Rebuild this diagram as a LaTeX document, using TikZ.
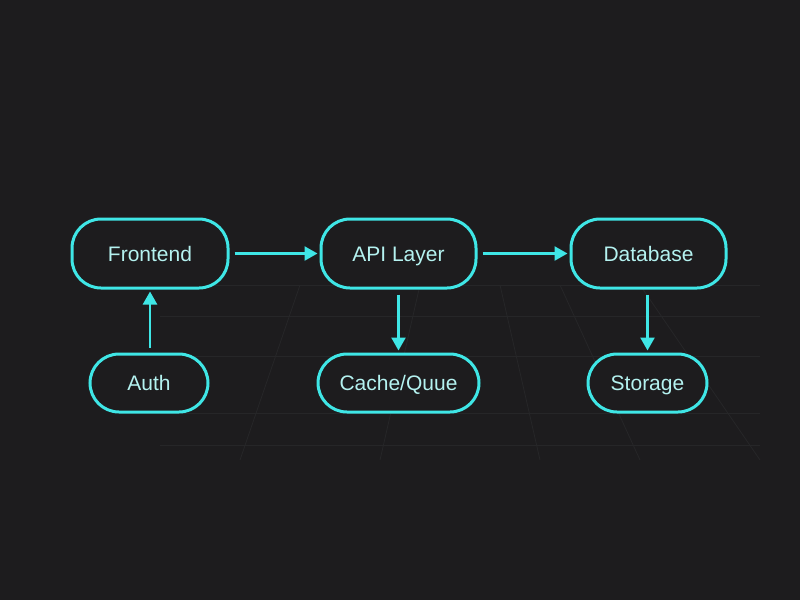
\documentclass[tikz,border=0pt]{standalone}
\usepackage{fontspec}
\setmainfont{Liberation Sans}
\usetikzlibrary{arrows.meta}
\definecolor{bg}{HTML}{1D1C1E}
\definecolor{cy}{HTML}{3FE6E6}
\definecolor{tx}{HTML}{B4F2F0}
\definecolor{gr}{HTML}{262628}
\begin{document}
\begin{tikzpicture}[x=1pt,y=-1pt,
  box/.style={draw=cy,line width=3pt,rounded corners=29pt,fill=bg,text=tx,font=\fontsize{21}{24}\selectfont,inner sep=0pt,text height=15pt,text depth=0pt,minimum height=#1},
  big/.style={box=69pt},
  small/.style={box=58pt},
  arr/.style={draw=cy,line width=2.5pt,-{Triangle[length=13pt,width=14pt]},shorten >=2pt,shorten <=5pt}]
\useasboundingbox (0,0) rectangle (800,600);
\fill[bg] (0,0) rectangle (800,600);
% faint grid
\foreach \y in {285,316,356,413,445} \draw[gr,line width=0.8pt] (160,\y) -- (760,\y);
\foreach \a/\b in {300/240,420/380,500/540,560/640,640/760} \draw[gr,line width=0.8pt] (\a,285) -- (\b,460);
\node[big,minimum width=156pt] (fe) at (150,253.5) {Frontend};
\node[big,minimum width=155pt] (api) at (398.5,253.5) {API Layer};
\node[big,minimum width=155pt] (db) at (648.5,253.5) {Database};
\node[small,minimum width=118pt] (au) at (149,383) {Auth};
\node[small,minimum width=161pt] (cq) at (398.5,383) {Cache/Quue};
\node[small,minimum width=119pt] (st) at (647.5,383) {Storage};
\draw[arr] (fe) -- (api);
\draw[arr] (api) -- (db);
\draw[arr] (au.north -| fe) -- (fe);
\draw[arr] (api) -- (cq.north -| api);
\draw[arr] (db.south -| st) -- (st);
\end{tikzpicture}
\end{document}
